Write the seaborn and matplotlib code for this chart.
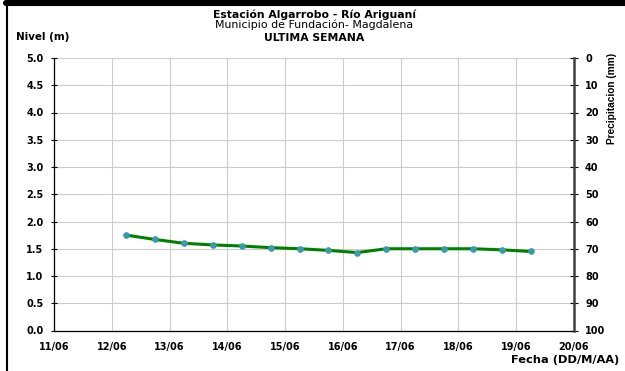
import matplotlib
matplotlib.use("Agg")
import matplotlib.pyplot as plt
import seaborn as sns
import pandas as pd

# Data
fecha_dias = [12.25, 12.75, 13.25, 13.75, 14.25, 14.75, 15.25, 15.75,
              16.25, 16.75, 17.25, 17.75, 18.25, 18.75, 19.25]
nivel = [1.75, 1.67, 1.60, 1.57, 1.55, 1.52, 1.50, 1.47,
         1.43, 1.50, 1.50, 1.50, 1.50, 1.48, 1.45]
x_ticks = [11, 12, 13, 14, 15, 16, 17, 18, 19, 20]
x_labels = ["11/06", "12/06", "13/06", "14/06", "15/06", "16/06",
            "17/06", "18/06", "19/06", "20/06"]
y_ticks = [0.0, 0.5, 1.0, 1.5, 2.0, 2.5, 3.0, 3.5, 4.0, 4.5, 5.0]
precip_ticks = [0, 10, 20, 30, 40, 50, 60, 70, 80, 90, 100]

df = pd.DataFrame({"dia": fecha_dias, "nivel": nivel})

sns.set_theme(style="white")
plt.rcParams["font.family"] = ["DejaVu Sans"]
plt.rcParams["text.color"] = "black"
plt.rcParams["xtick.color"] = "black"
plt.rcParams["ytick.color"] = "black"
plt.rcParams["axes.labelcolor"] = "black"

W, H = 625, 371
fig = plt.figure(figsize=(6.25, 3.71), dpi=100)
L, R, T, B = 54, 574, 58, 330.5
ax = fig.add_axes([L / W, 1 - B / H, (R - L) / W, (B - T) / H])

sns.lineplot(data=df, x="dia", y="nivel", ax=ax, color="#008000", linewidth=2.2,
             marker="o", markersize=4, markerfacecolor="#3a9aaa",
             markeredgecolor="#3a9aaa", zorder=3)

ax.set_xlim(11, 20)
ax.set_ylim(0, 5)
ax.set_xticks(x_ticks)
ax.set_xticklabels(x_labels, fontsize=7, fontweight="bold", color="black")
ax.set_yticks(y_ticks)
ax.set_yticklabels([f"{v:.1f}" for v in y_ticks], fontsize=7, fontweight="bold",
                   color="black")
ax.grid(True, color="#cccccc", linewidth=0.8)
ax.set_xlabel("")
ax.set_ylabel("")
ax.spines["top"].set_visible(False)
ax.spines["right"].set_visible(False)
for s in ["left", "bottom"]:
    ax.spines[s].set_color("black")
    ax.spines[s].set_linewidth(0.9)
ax.tick_params(axis="y", length=5, width=0.8, color="black", direction="inout", pad=5)
ax.tick_params(axis="x", length=3, width=0.8, color="black", direction="out", pad=5)

ax2 = ax.twinx()
ax2.set_ylim(100, 0)
ax2.set_yticks(precip_ticks)
ax2.set_yticklabels([str(v) for v in precip_ticks], fontsize=7, fontweight="bold",
                    color="black")
ax2.grid(False)
for s in ["top", "left", "bottom"]:
    ax2.spines[s].set_visible(False)
ax2.spines["right"].set_color("#404040")
ax2.spines["right"].set_linewidth(1.8)
ax2.tick_params(axis="y", length=6, width=0.8, color="black", direction="inout", pad=5)

# Titles
fig.text(0.5 + 2 / W, 1 - 17.5 / H, "Estación Algarrobo - Río Ariguaní", ha="center",
         va="baseline", fontsize=7.8, fontweight="bold")
fig.text(0.5 + 2 / W, 1 - 28.5 / H, "Municipio de Fundación- Magdalena", ha="center",
         va="baseline", fontsize=7.9)
fig.text(0.5 + 2 / W, 1 - 41 / H, "ULTIMA SEMANA", ha="center", va="baseline",
         fontsize=7.8, fontweight="bold")
fig.text(16 / W, 1 - 40 / H, "Nivel (m)", ha="left", va="baseline",
         fontsize=7.4, fontweight="bold")
fig.text(612 / W, 1 - 98 / H, "Precipitacion (mm)", ha="center", va="center",
         rotation=90, fontsize=7.3, fontweight="bold",
         family=["Liberation Sans", "DejaVu Sans"])
fig.text(619 / W, 1 - 363 / H, "Fecha (DD/M/AA)", ha="right", va="baseline",
         fontsize=8.2, fontweight="bold")

# Border lines
fig.add_artist(plt.Line2D([6 / W, 1], [1 - 3 / H, 1 - 3 / H], color="black",
                          linewidth=4.4, transform=fig.transFigure))
fig.add_artist(plt.Line2D([7 / W, 7 / W], [0, 1], color="black",
                          linewidth=1.5, transform=fig.transFigure))

fig.savefig("out.png", dpi=100)
